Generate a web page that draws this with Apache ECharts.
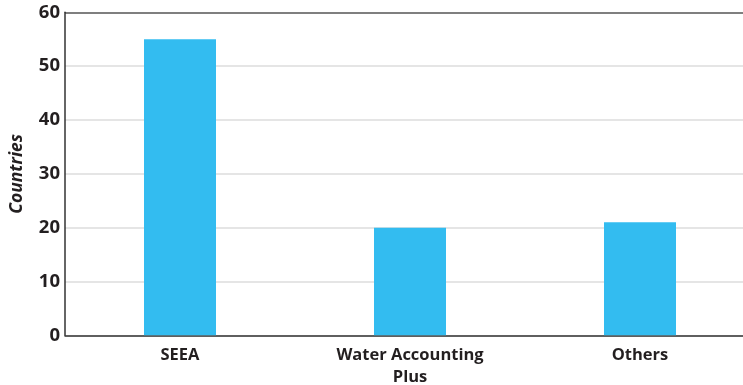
<!DOCTYPE html>
<html>
<head>
<meta charset="utf-8">
<script src="https://cdn.jsdelivr.net/npm/echarts@6/dist/echarts.min.js"></script>
<style>
  html, body { margin: 0; padding: 0; background: #fff; }
  #chart { width: 743px; height: 385px; }
</style>
</head>
<body>
<div id="chart"></div>
<script>
// Number of countries using each water accounting framework
var categories = ['SEEA', 'Water Accounting\nPlus', 'Others'];
var countries = [55, 20, 21];
var yTicks = [0, 10, 20, 30, 40, 50, 60];

var chart = echarts.init(document.getElementById('chart'), null, { renderer: 'canvas' });

// Split lines are light grey except the top one (60), which is drawn dark like the axis
var splitColors = yTicks.map(function (v, i) {
  return i === yTicks.length - 1 ? '#555555' : '#dddddd';
});

chart.setOption({
  animation: false,
  textStyle: { fontFamily: 'Open Sans' },
  grid: {
    left: 65,
    top: 12.3,
    width: 690,
    height: 323,
    containLabel: false,
    outerBoundsMode: 'none'
  },
  xAxis: {
    type: 'category',
    data: categories,
    axisLine: { show: true, lineStyle: { color: '#333333', width: 1.5 } },
    axisTick: { show: false },
    axisLabel: {
      color: '#231f20',
      fontSize: 16.5,
      fontWeight: 'bold',
      fontFamily: 'Open Sans',
      lineHeight: 22,
      margin: 9
    }
  },
  yAxis: {
    type: 'value',
    min: yTicks[0],
    max: yTicks[yTicks.length - 1],
    interval: 10,
    name: 'Countries',
    nameLocation: 'middle',
    nameGap: 39,
    nameTextStyle: {
      color: '#231f20',
      fontSize: 17.5,
      fontWeight: 'bold',
      fontStyle: 'italic',
      fontFamily: 'Open Sans'
    },
    axisLine: { show: true, lineStyle: { color: '#333333', width: 1.5 } },
    axisTick: { show: false },
    axisLabel: {
      color: '#231f20',
      fontSize: 18.5,
      fontWeight: 'bold',
      fontFamily: 'Open Sans',
      margin: 5
    },
    splitLine: { show: true, lineStyle: { color: splitColors, width: 1.5 } }
  },
  series: [{
    type: 'bar',
    data: countries,
    barWidth: 72,
    itemStyle: { color: '#33bcf0' }
  }]
});
</script>
</body>
</html>
